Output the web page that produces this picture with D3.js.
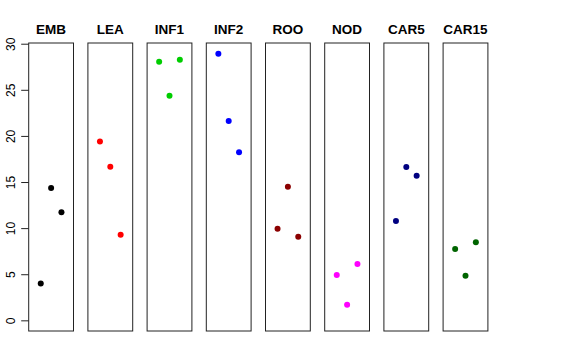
<!DOCTYPE html>
<html>
<head>
<meta charset="utf-8">
<script src="https://cdn.jsdelivr.net/npm/d3@7"></script>
<style>
  body { margin: 0; background: #fff; }
  svg { display: block; font-family: "Liberation Sans", Arial, sans-serif; }
</style>
</head>
<body>
<svg id="chart" width="576" height="360"></svg>
<script>
// panel names and colours
let groups = ["EMB", "LEA", "INF1", "INF2", "ROO", "NOD", "CAR5", "CAR15"];
let colors = ["#000000", "#ff0000", "#00cd00", "#0000ff", "#8b0000", "#ff00ff", "#000080", "#006400"];

// three replicates per panel (x = 1, 2, 3)
let rep1 = [4.0, 19.4, 28.05, 28.92, 9.94, 4.91, 10.77, 7.73];
let rep2 = [14.35, 16.66, 24.36, 21.62, 14.49, 1.69, 16.63, 4.84];
let rep3 = [11.71, 9.28, 28.27, 18.22, 9.07, 6.11, 15.69, 8.46];

let yTicks = [0, 5, 10, 15, 20, 25, 30];

let svg = d3.select("#chart"),
    top0 = 43, bottom0 = 331,
    left0 = 28.7, panelW = 44.8, step = 59.2;

let maxY = d3.max([rep1, rep2, rep3].flat());
let pad = maxY * 0.04;

let scaleY = d3.scaleLinear()
    .domain([-pad, maxY + pad])
    .range([bottom0, top0]);

let scaleX = d3.scaleLinear()
    .domain([-0.165, 4.165])
    .range([0, panelW]);

groups.forEach((name, i) => {
    let g = svg.append("g")
        .attr("transform", "translate(" + (left0 + i * step) + ",0)");

    g.append("rect")
        .attr("x", 0)
        .attr("y", top0)
        .attr("width", panelW)
        .attr("height", bottom0 - top0)
        .attr("fill", "none")
        .attr("stroke", "#222")
        .attr("stroke-width", 1);

    g.append("text")
        .attr("x", panelW / 2)
        .attr("y", 33.5)
        .attr("text-anchor", "middle")
        .style("font-weight", "bold")
        .style("font-size", "13.5px")
        .text(name);

    let pts = [rep1[i], rep2[i], rep3[i]].map((v, j) => ({x: j + 1, y: v}));
    g.selectAll("circle")
        .data(pts)
        .enter().append("circle")
        .attr("cx", d => scaleX(d.x))
        .attr("cy", d => scaleY(d.y))
        .attr("r", 3)
        .attr("fill", colors[i]);
});

// y axis on the first panel
let yAxis = d3.axisLeft(scaleY)
    .tickValues(yTicks)
    .tickSize(7.5)
    .tickPadding(0)
    .tickFormat(d3.format("d"));

let ax = svg.append("g")
    .attr("transform", "translate(" + left0 + ",0)")
    .call(yAxis);

ax.select(".domain").remove();
ax.selectAll(".tick line").attr("stroke", "#222");
ax.selectAll(".tick text")
    .attr("x", 0)
    .attr("dy", 0)
    .attr("transform", "translate(-14,0) rotate(-90)")
    .attr("text-anchor", "middle")
    .style("font-size", "12px")
    .style("font-family", "Liberation Sans, Arial, sans-serif")
    .attr("fill", "#000");
</script>
</body>
</html>
